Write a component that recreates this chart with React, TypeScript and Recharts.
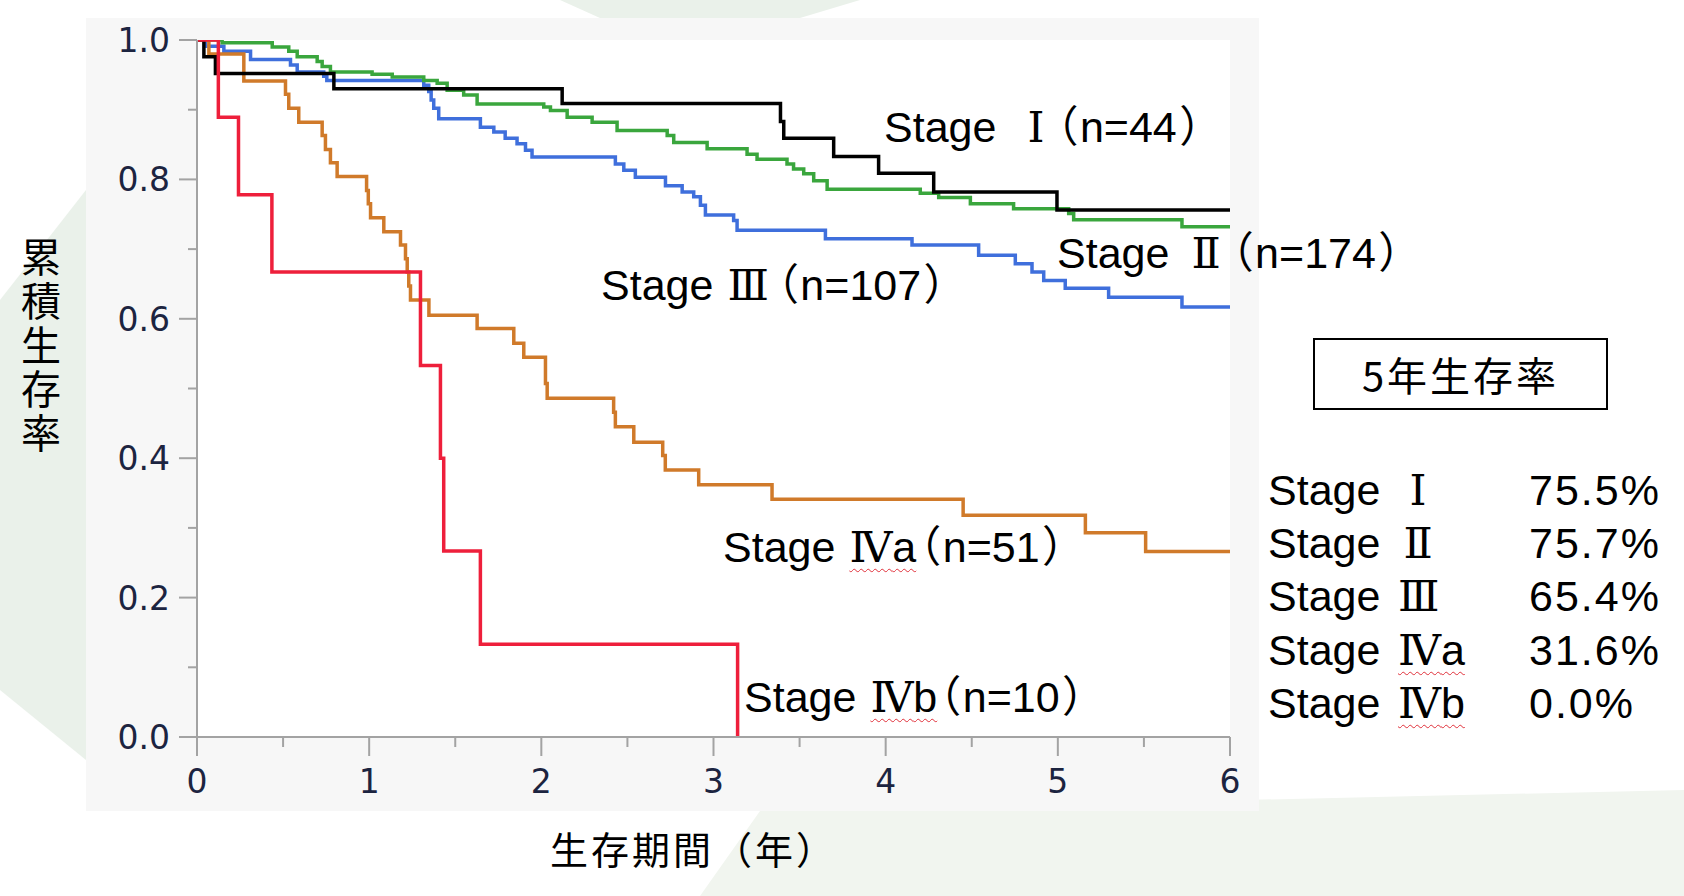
import React from 'react';
import { LineChart, Line, XAxis, YAxis, ReferenceArea } from 'recharts';

// survival steps: years / cumulative survival
const stage1Years = [0, 0.04, 0.107, 0.795, 2.121, 3.389, 3.408, 3.698, 3.959, 4.279, 4.995, 6];
const stage1Surv = [1, 0.976, 0.952, 0.93, 0.909, 0.883, 0.859, 0.833, 0.809, 0.782, 0.756, 0.756];

const stage2Years = [
  0, 0.146, 0.437, 0.533, 0.582, 0.698, 0.727, 0.775, 1.017, 1.134, 1.317, 1.395, 1.453, 1.549, 1.627,
  2.014, 2.053, 2.15, 2.295, 2.44, 2.731, 2.769, 2.963, 3.195, 3.253, 3.427, 3.465, 3.524, 3.582, 3.66,
  4.201, 4.308, 4.492, 4.743, 5.063, 5.092, 5.721, 6,
];
const stage2Surv = [
  1, 0.996, 0.99, 0.984, 0.976, 0.969, 0.962, 0.954, 0.951, 0.947, 0.942, 0.938, 0.928, 0.921, 0.908,
  0.904, 0.899, 0.889, 0.882, 0.87, 0.863, 0.853, 0.844, 0.836, 0.829, 0.822, 0.815, 0.808, 0.798, 0.786,
  0.78, 0.774, 0.765, 0.758, 0.751, 0.742, 0.732, 0.732,
];

const stage3Years = [
  0, 0.05, 0.156, 0.311, 0.543, 0.582, 0.736, 0.754, 1.317, 1.346, 1.36, 1.375, 1.404, 1.646, 1.724,
  1.79, 1.859, 1.908, 1.946, 2.43, 2.479, 2.546, 2.721, 2.818, 2.885, 2.924, 2.953, 3.117, 3.137, 3.65,
  4.153, 4.54, 4.753, 4.85, 4.918, 5.043, 5.295, 5.721, 6,
];
const stage3Surv = [
  1, 0.991, 0.984, 0.972, 0.964, 0.954, 0.948, 0.942, 0.935, 0.926, 0.914, 0.902, 0.887, 0.875, 0.868,
  0.859, 0.851, 0.842, 0.832, 0.822, 0.813, 0.803, 0.791, 0.782, 0.775, 0.763, 0.749, 0.741, 0.727, 0.715,
  0.706, 0.691, 0.679, 0.667, 0.655, 0.644, 0.631, 0.617, 0.617,
];

const stage4aYears = [
  0, 0.069, 0.272, 0.514, 0.533, 0.591, 0.727, 0.746, 0.775, 0.814, 0.985, 0.995, 1.008, 1.085, 1.182,
  1.211, 1.221, 1.23, 1.24, 1.347, 1.627, 1.84, 1.898, 2.024, 2.034, 2.42, 2.43, 2.537, 2.705, 2.72,
  2.914, 3.34, 4.45, 5.16, 5.51, 6,
];
const stage4aSurv = [
  1, 0.98, 0.941, 0.922, 0.902, 0.882, 0.863, 0.843, 0.824, 0.804, 0.784, 0.765, 0.745, 0.725, 0.706,
  0.686, 0.667, 0.647, 0.627, 0.605, 0.586, 0.565, 0.545, 0.507, 0.486, 0.466, 0.445, 0.423, 0.404, 0.383,
  0.362, 0.341, 0.318, 0.293, 0.266, 0.266,
];

const stage4bYears = [0, 0.124, 0.241, 0.435, 1.298, 1.414, 1.433, 1.646, 3.14];
const stage4bSurv = [1, 0.889, 0.778, 0.667, 0.533, 0.4, 0.267, 0.133, 0];

const xTicks = [0, 0.5, 1, 1.5, 2, 2.5, 3, 3.5, 4, 4.5, 5, 5.5, 6];
const xLabelTicks = [0, 1, 2, 3, 4, 5, 6];
const yTicks = [0, 0.1, 0.2, 0.3, 0.4, 0.5, 0.6, 0.7, 0.8, 0.9, 1];
const yLabelTicks = [0, 0.2, 0.4, 0.6, 0.8, 1];

const numerals = ['Ⅰ', 'Ⅱ', 'Ⅲ', 'Ⅳ', 'Ⅳ'];
const suffixes = ['', '', '', 'a', 'b'];
const counts = [44, 174, 107, 51, 10];
const fiveYearRates = ['75.5%', '75.7%', '65.4%', '31.6%', '0.0%'];

const toPoints = (years: number[], surv: number[]) => years.map((t, i) => ({ t, s: surv[i] }));

const AXIS = '#a3a3a3';
const SANS = "'Liberation Sans', Arial, 'Noto Sans CJK JP', sans-serif";
const CJK = "'Noto Sans CJK JP', sans-serif";
const ROMAN = "'DejaVu Serif', 'Liberation Serif', 'Noto Sans CJK JP', serif";
const tickText = { fontFamily: "'DejaVu Sans', Verdana, sans-serif", fontSize: 33, fill: '#1c2440' };

function YTick(props: any) {
  const { x, y, payload } = props;
  const v = payload.value as number;
  const major = yLabelTicks.includes(v);
  return (
    <g>
      <line x1={x - (major ? 18 : 9)} x2={x} y1={y} y2={y} stroke={AXIS} strokeWidth={2} />
      {major && (
        <text x={x - 27} y={y + 12} textAnchor="end" {...tickText}>
          {v.toFixed(1)}
        </text>
      )}
    </g>
  );
}

function XTick(props: any) {
  const { x, y, payload } = props;
  const v = payload.value as number;
  const major = xLabelTicks.includes(v);
  return (
    <g>
      <line x1={x} x2={x} y1={y} y2={y + (major ? 19 : 10)} stroke={AXIS} strokeWidth={2} />
      {major && (
        <text x={x} y={y + 56} textAnchor="middle" {...tickText}>
          {v}
        </text>
      )}
    </g>
  );
}

const textBase: React.CSSProperties = {
  position: 'absolute',
  fontFamily: SANS,
  fontSize: 43,
  lineHeight: '43px',
  color: '#000',
  whiteSpace: 'nowrap',
};

function Roman({ i, gap }: { i: number; gap: number }) {
  return (
    <span
      style={{
        marginLeft: gap,
        textDecoration: suffixes[i] ? 'underline wavy #e0303a' : 'none',
        textDecorationThickness: 1,
        textUnderlineOffset: 6,
      }}
    >
      <span style={{ fontFamily: ROMAN, lineHeight: 0 }}>{numerals[i]}</span>
      {suffixes[i]}
    </span>
  );
}

function Paren({ ch, ml, mr }: { ch: string; ml: number; mr: number }) {
  return (
    <span style={{ fontFamily: CJK, fontFeatureSettings: '"palt"', lineHeight: 0, marginLeft: ml, marginRight: mr }}>
      {ch}
    </span>
  );
}

function CurveLabel({ i, left, baseline, gap, after }: { i: number; left: number; baseline: number; gap: number; after: number }) {
  return (
    <div style={{ ...textBase, left, top: baseline - 36.4 }}>
      Stage
      <Roman i={i} gap={gap} />
      <Paren ch="（" ml={after} mr={3} />
      n={counts[i]}
      <Paren ch="）" ml={4} mr={0} />
    </div>
  );
}

export default function App() {
  const series = [
    { pts: toPoints(stage3Years, stage3Surv), color: '#3f6fdc' },
    { pts: toPoints(stage2Years, stage2Surv), color: '#3aa63d' },
    { pts: toPoints(stage4aYears, stage4aSurv), color: '#d07a2a' },
    { pts: toPoints(stage1Years, stage1Surv), color: '#000000' },
    { pts: toPoints(stage4bYears, stage4bSurv), color: '#ee1f3b' },
  ];

  return (
    <div style={{ position: 'absolute', left: 0, top: 0, width: 1684, height: 896, background: '#fff', overflow: 'hidden' }}>
      {/* faint watermark shapes behind the panel */}
      <svg width={1684} height={896} style={{ position: 'absolute', left: 0, top: 0 }}>
        <polygon points="0,300 86,190 86,760 0,690" fill="#eaf1ea" />
        <polygon points="560,0 860,0 800,18 600,18" fill="#eaf1ea" />
        <polygon points="760,811 1684,790 1684,896 700,896" fill="#f1f5ef" />
      </svg>
      <div style={{ position: 'absolute', left: 86, top: 18, width: 1173, height: 793, background: '#f7f7f7' }} />

      <div style={{ position: 'absolute', left: 0, top: 0 }}>
        <LineChart width={1684} height={896} margin={{ top: 40, right: 454, bottom: 99, left: 87 }}>
          <XAxis
            dataKey="t"
            type="number"
            domain={[0, 6]}
            ticks={xTicks}
            interval={0}
            height={60}
            tickSize={0}
            tickMargin={0}
            tickLine={false}
            axisLine={{ stroke: AXIS, strokeWidth: 2 }}
            tick={<XTick />}
            allowDataOverflow
          />
          <YAxis
            type="number"
            domain={[0, 1]}
            ticks={yTicks}
            interval={0}
            width={110}
            tickSize={0}
            tickMargin={0}
            tickLine={false}
            axisLine={{ stroke: AXIS, strokeWidth: 2 }}
            tick={<YTick />}
            allowDataOverflow
          />
          <ReferenceArea x1={0} x2={6} y1={0} y2={1} fill="#ffffff" fillOpacity={1} stroke="none" />
          {series.map((sr, k) => (
            <Line
              key={k}
              data={sr.pts}
              dataKey="s"
              type="stepAfter"
              stroke={sr.color}
              strokeWidth={3.5}
              dot={false}
              activeDot={false}
              isAnimationActive={false}
            />
          ))}
        </LineChart>
      </div>

      <CurveLabel i={0} left={884} baseline={142} gap={31} after={11} />
      <CurveLabel i={1} left={1057} baseline={268} gap={22} after={10} />
      <CurveLabel i={2} left={601} baseline={300} gap={14} after={7} />
      <CurveLabel i={3} left={723} baseline={562} gap={14} after={2} />
      <CurveLabel i={4} left={744} baseline={712} gap={14} after={1} />

      {/* axis titles */}
      <div
        style={{
          position: 'absolute',
          left: 20,
          top: 237,
          writingMode: 'vertical-rl',
          fontFamily: CJK,
          fontSize: 40,
          lineHeight: '42px',
          letterSpacing: 4,
          color: '#000',
        }}
      >
        累積生存率
      </div>
      <div
        style={{
          position: 'absolute',
          left: 550,
          top: 829,
          fontFamily: CJK,
          fontSize: 38,
          lineHeight: '38px',
          letterSpacing: 3,
          color: '#000',
          whiteSpace: 'nowrap',
        }}
      >
        生存期間（年）
      </div>

      {/* 5-year survival table */}
      <div
        style={{
          position: 'absolute',
          left: 1313,
          top: 338,
          width: 295,
          height: 72,
          boxSizing: 'border-box',
          border: '2px solid #000',
          display: 'flex',
          alignItems: 'center',
          justifyContent: 'center',
          fontFamily: CJK,
          fontSize: 40,
          letterSpacing: 3,
          color: '#000',
        }}
      >
        5年生存率
      </div>
      {fiveYearRates.map((rate, i) => (
        <div key={i} style={{ ...textBase, left: 1268, top: 468.6 + i * 53.3 }}>
          <span style={{ display: 'inline-block', width: 130 }}>Stage</span>
          <span style={{ display: 'inline-block', width: 40, textAlign: 'center' }}>
            <Roman i={i} gap={0} />
          </span>
          <span style={{ position: 'absolute', left: 261, top: 0, letterSpacing: 2 }}>{rate}</span>
        </div>
      ))}
    </div>
  );
}
